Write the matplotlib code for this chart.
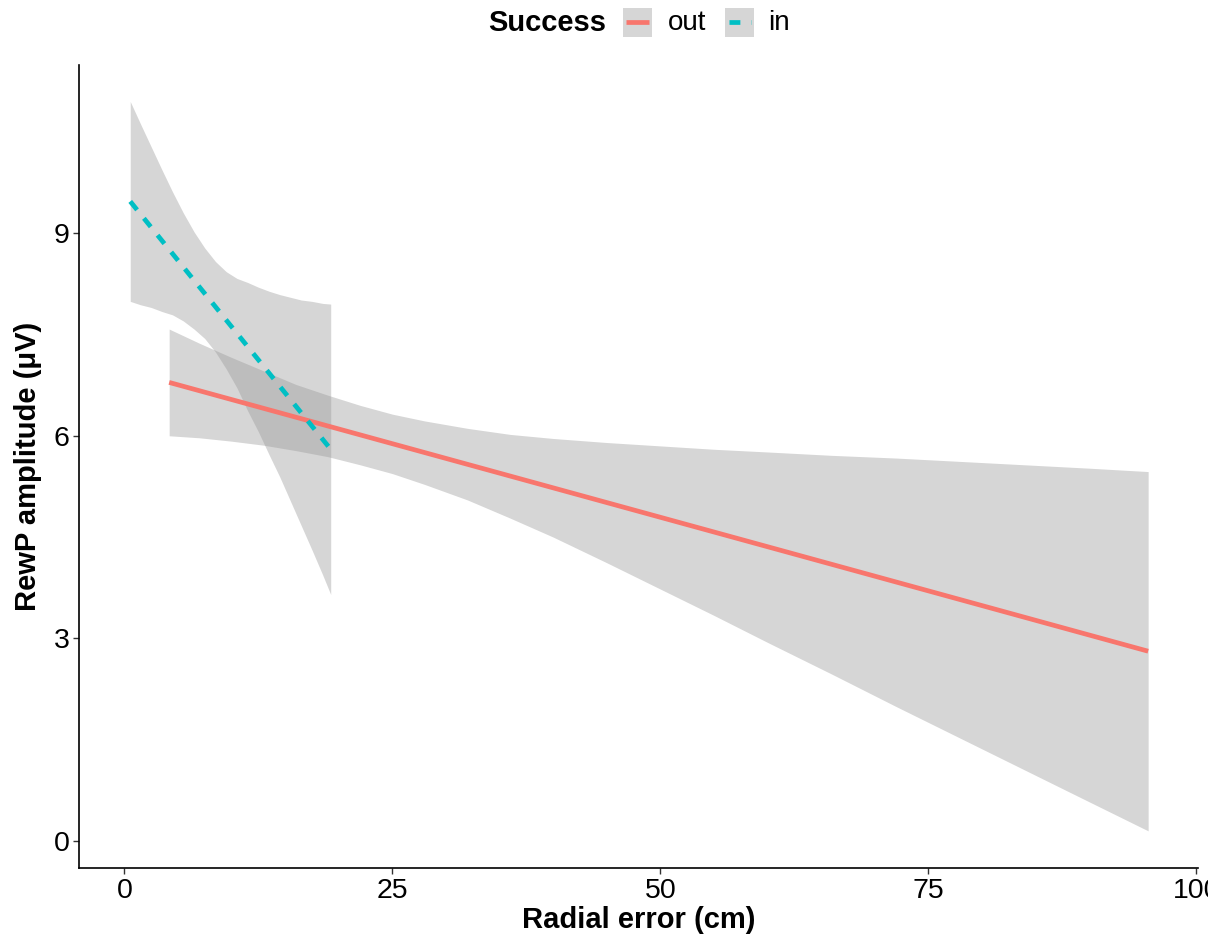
import matplotlib
matplotlib.use("Agg")
import matplotlib.pyplot as plt
from matplotlib.patches import Rectangle
from matplotlib.lines import Line2D
from matplotlib.transforms import Bbox

plt.rcParams['font.family'] = ['Liberation Sans', 'DejaVu Sans']

# linear fits per group (endpoints of the fitted line)
out_x = [4.18, 95.5]
out_y = [6.79, 2.81]
in_x = [0.55, 19.25]
in_y = [9.47, 5.80]

# 95% confidence band of each fit
out_band_x = [4.18, 7, 10, 13, 16, 19, 22, 25, 28, 32, 36, 40, 45, 50, 55, 60, 66, 72, 78, 84, 90, 95.5]
out_band_hi = [7.58, 7.37, 7.16, 6.96, 6.76, 6.60, 6.45, 6.32, 6.22, 6.11, 6.02, 5.96,
               5.90, 5.85, 5.80, 5.76, 5.71, 5.67, 5.62, 5.57, 5.52, 5.47]
out_band_lo = [6.00, 5.97, 5.92, 5.86, 5.78, 5.69, 5.57, 5.44, 5.28, 5.05, 4.78, 4.50,
               4.12, 3.73, 3.34, 2.94, 2.47, 1.99, 1.52, 1.05, 0.58, 0.15]

in_band_x = [0.55, 1.5, 2.5, 3.5, 4.5, 5.5, 6.5, 7.5, 8.5, 9.5, 10.5, 11.5, 12.5, 13.5,
             14.5, 15.5, 16.5, 17.5, 18.5, 19.25]
in_band_hi = [10.95, 10.62, 10.28, 9.94, 9.61, 9.30, 9.02, 8.78, 8.58, 8.43, 8.33, 8.27,
              8.20, 8.14, 8.09, 8.05, 8.01, 7.99, 7.96, 7.95]
in_band_lo = [7.99, 7.94, 7.90, 7.84, 7.79, 7.70, 7.58, 7.44, 7.24, 6.99, 6.71, 6.37,
              6.06, 5.72, 5.39, 5.03, 4.67, 4.31, 3.94, 3.65]

colors = {'out': '#F8766D', 'in': '#00BFC4'}
x_ticks = [0, 25, 50, 75, 100]
y_ticks = [0, 3, 6, 9]

W, H = 1221, 940
fig = plt.figure(figsize=(W / 100, H / 100), dpi=100)
ax = fig.add_axes([79 / W, 1 - 868 / H, 1119 / W, 803 / H])

band_fill = dict(color='#999999', alpha=0.4, linewidth=0)
ax.fill_between(out_band_x, out_band_lo, out_band_hi, **band_fill)
ax.fill_between(in_band_x, in_band_lo, in_band_hi, **band_fill)

lw = 3.4
ax.plot(out_x, out_y, color=colors['out'], lw=lw, solid_capstyle='butt')
ax.plot(in_x, in_y, color=colors['in'], lw=lw, dashes=(2.3, 2.3), dash_capstyle='butt')

ax.set_xlim(-4.23, 100.15)
ax.set_ylim(-0.40, 11.49)
ax.set_xticks(x_ticks)
ax.set_yticks(y_ticks)
ax.tick_params(labelsize=20.5, length=4, width=1.0, color='#333333', pad=3, labelcolor='black')
for side in ['top', 'right']:
    ax.spines[side].set_visible(False)
for side in ['left', 'bottom']:
    ax.spines[side].set_linewidth(1.2)
    ax.spines[side].set_color('black')

# the last x label runs past the right edge of the canvas
edge = Bbox.from_extents(0, 0, 1208, H)
for lab in ax.get_xticklabels():
    lab.set_clip_box(edge)
    lab.set_clip_on(True)

ax.set_xlabel('Radial error (cm)', fontsize=21, fontweight='bold', labelpad=2)
ax.set_ylabel('RewP amplitude (μV)', fontsize=21, fontweight='bold', labelpad=8)


def fx(px):
    return px / W


def fy(py):
    return 1 - py / H


# legend on top: title, then key boxes with labels
fig.text(fx(488), fy(23), 'Success', fontsize=21, fontweight='bold', ha='left', va='center')
keys = [('out', 622.7, 668), ('in', 725, 768)]
for g, kx, tx in keys:
    fig.add_artist(Rectangle((fx(kx), fy(37)), 29 / W, 29 / H, transform=fig.transFigure,
                             facecolor='#D6D6D6', edgecolor='none'))
    ln = Line2D([fx(kx + 3.5), fx(kx + 26)], [fy(22), fy(22)], transform=fig.transFigure,
                color=colors[g], lw=lw)
    if g == 'in':
        ln.set_dashes((2.3, 2.3))
        ln.set_dash_capstyle('butt')
    else:
        ln.set_solid_capstyle('butt')
    fig.add_artist(ln)
    fig.text(fx(tx), fy(23), g, fontsize=20, ha='left', va='center')

fig.savefig('out.png', dpi=100)
